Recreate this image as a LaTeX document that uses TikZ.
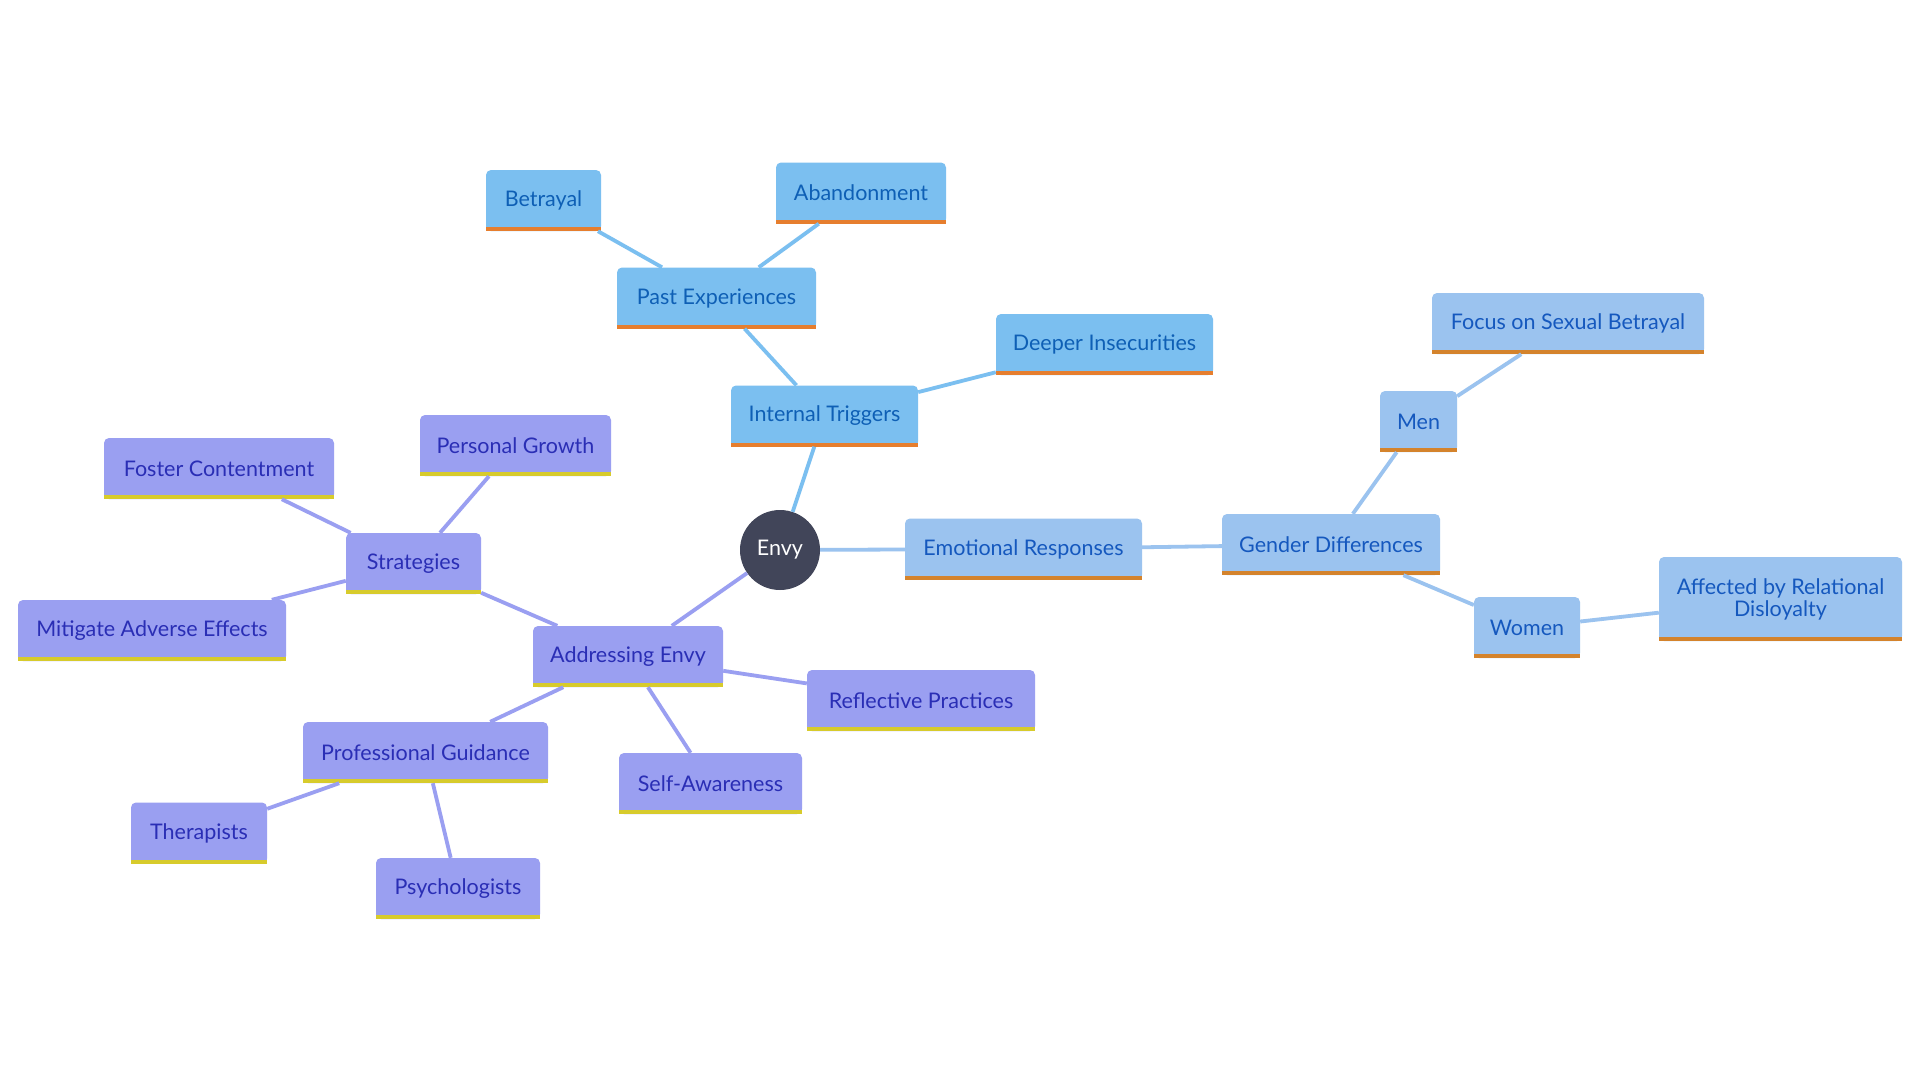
\documentclass[tikz,border=0pt]{standalone}
\usepackage{fontspec}
\setmainfont{Lato}
\definecolor{fA}{HTML}{7BBFF0}
\definecolor{tA}{HTML}{0E5FB5}
\definecolor{bA}{HTML}{E67E2E}
\definecolor{fB}{HTML}{9BC3EF}
\definecolor{tB}{HTML}{1558BE}
\definecolor{bB}{HTML}{D4832C}
\definecolor{fC}{HTML}{9A9FF1}
\definecolor{tC}{HTML}{2A2EB5}
\definecolor{bC}{HTML}{D7CB2C}
\definecolor{envyc}{HTML}{414559}
\begin{document}
\begin{tikzpicture}[x=1pt,y=-1pt,
  every node/.style={inner sep=0pt, font=\fontsize{21.5}{22}\selectfont},
  box/.style={rectangle, rounded corners=5pt, align=center, minimum height=61pt},
  gA/.style={box, fill=fA, text=tA},
  gB/.style={box, fill=fB, text=tB},
  gC/.style={box, fill=fC, text=tC},
  eA/.style={draw=fA, line width=3.8pt},
  eB/.style={draw=fB, line width=3.8pt},
  eC/.style={draw=fC, line width=3.8pt}]
\useasboundingbox[fill=white] (0,0) rectangle (1920,1080);

% centre
\node[circle, fill=envyc, text=white, minimum size=80pt] (envy) at (780,550) {Envy};

% group A
\node[gA, minimum width=187pt] (it) at (824.5,416) {Internal Triggers};
\node[gA, minimum width=199pt] (pe) at (716.5,298) {Past Experiences};
\node[gA, minimum width=115pt] (bet) at (543.5,200.5) {Betrayal};
\node[gA, minimum width=170pt] (aba) at (861,193) {Abandonment};
\node[gA, minimum width=217pt] (dei) at (1104.5,344.5) {Deeper Insecurities};

% group B
\node[gB, minimum width=237pt] (er) at (1023.5,549) {Emotional Responses};
\node[gB, minimum width=218pt] (gd) at (1331,544.5) {Gender Differences};
\node[gB, minimum width=77pt] (men) at (1418.5,421.5) {Men};
\node[gB, minimum width=272pt] (fsb) at (1568,323.5) {Focus on Sexual Betrayal};
\node[gB, minimum width=106pt] (wom) at (1527,627.5) {Women};
\node[gB, minimum width=243pt, minimum height=84pt] (aff) at (1780.5,599) {Affected by Relational\\Disloyalty};

% group C
\node[gC, minimum width=190pt] (ae) at (628,656.5) {Addressing Envy};
\node[gC, minimum width=135pt] (str) at (413.5,563.5) {Strategies};
\node[gC, minimum width=191pt] (pgr) at (515.5,445.5) {Personal Growth};
\node[gC, minimum width=230pt] (fco) at (219,468.5) {Foster Contentment};
\node[gC, minimum width=268pt] (mae) at (152,630.5) {Mitigate Adverse Effects};
\node[gC, minimum width=228pt] (rp) at (921,700.5) {Reflective Practices};
\node[gC, minimum width=245pt] (prg) at (425.5,752.5) {Professional Guidance};
\node[gC, minimum width=183pt] (sa) at (710.5,783.5) {Self-Awareness};
\node[gC, minimum width=136pt] (the) at (199,833) {Therapists};
\node[gC, minimum width=164pt] (psy) at (458,888.5) {Psychologists};

% square bottoms and bars
\foreach \n/\f/\b in {it/fA/bA, pe/fA/bA, bet/fA/bA, aba/fA/bA, dei/fA/bA,
  er/fB/bB, gd/fB/bB, men/fB/bB, fsb/fB/bB, wom/fB/bB, aff/fB/bB,
  ae/fC/bC, str/fC/bC, pgr/fC/bC, fco/fC/bC, mae/fC/bC, rp/fC/bC, prg/fC/bC, sa/fC/bC, the/fC/bC, psy/fC/bC}{
  \fill[\f] (\n.south west) rectangle ([yshift=9pt]\n.south east);
  \fill[\b] (\n.south west) rectangle ([yshift=4pt]\n.south east);
}

% connectors
\draw[eA] (envy) -- (it);
\draw[eA] (it) -- (pe);
\draw[eA] (it) -- (dei);
\draw[eA] (pe) -- (bet);
\draw[eA] (pe) -- (aba);
\draw[eB] (envy) -- (er);
\draw[eB] (er) -- (gd);
\draw[eB] (gd) -- (men);
\draw[eB] (gd) -- (wom);
\draw[eB] (men) -- (fsb);
\draw[eB] (wom) -- (aff);
\draw[eC] (envy) -- (ae);
\draw[eC] (ae) -- (str);
\draw[eC] (ae) -- (prg);
\draw[eC] (ae) -- (sa);
\draw[eC] (ae) -- (rp);
\draw[eC] (str) -- (pgr);
\draw[eC] (str) -- (fco);
\draw[eC] (str) -- (mae);
\draw[eC] (prg) -- (the);
\draw[eC] (prg) -- (psy);
\end{tikzpicture}
\end{document}
